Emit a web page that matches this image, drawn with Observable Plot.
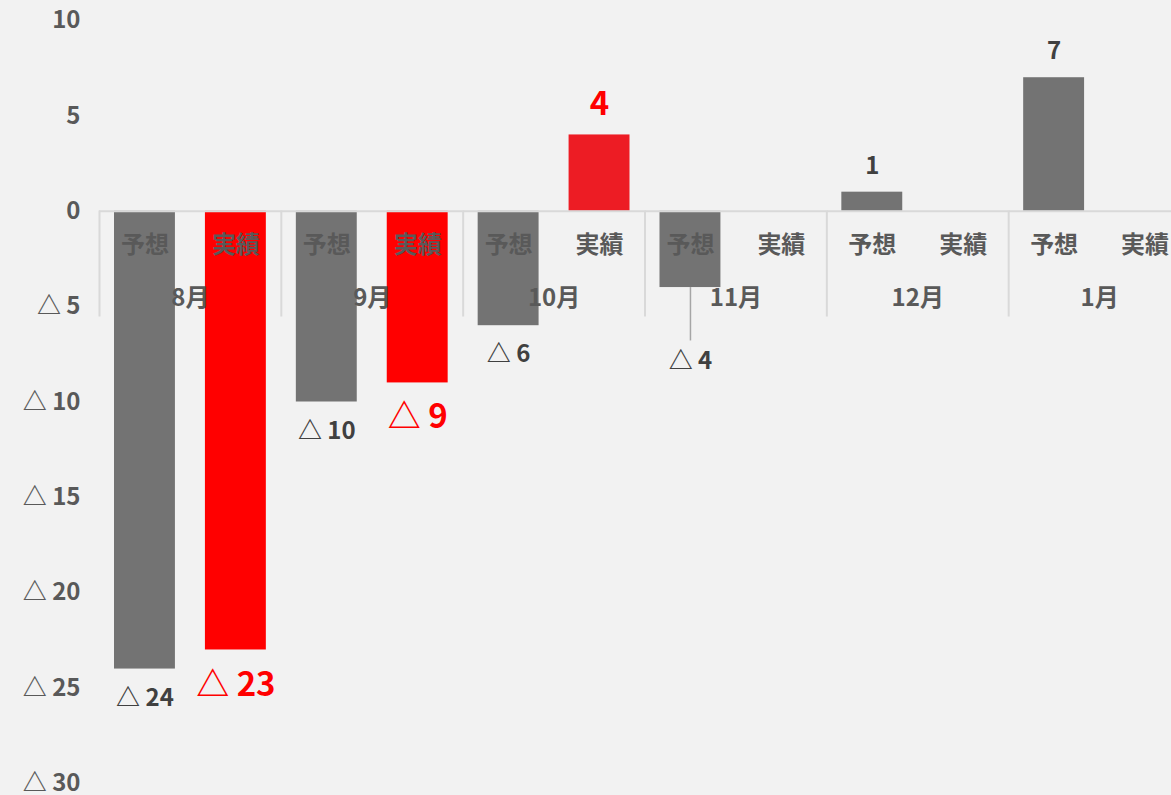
<!DOCTYPE html>
<html>
<head>
<meta charset="utf-8">
<script src="https://cdn.jsdelivr.net/npm/d3@7"></script>
<script src="https://cdn.jsdelivr.net/npm/@observablehq/plot@0.6"></script>
<style>
  html, body { margin: 0; padding: 0; background: #f2f2f2; overflow: hidden; }
  #chart svg { display: block; overflow: hidden; }
</style>
</head>
<body>
<div id="chart"></div>
<script>
// ---- data ----
const months = ["8月", "9月", "10月", "11月", "12月", "1月"];
const types = ["予想", "実績"];
const forecast = [-24, -10, -6, -4, 1, 7];
const actual = [-23, -9, 4, null, null, null];
const yTicks = [10, 5, 0, -5, -10, -15, -20, -25, -30];
const leaderMonth = "11月";

const fmt = v => v < 0 ? "△ " + (-v) : String(v);

const rows = months.flatMap((m, i) => [
  {month: m, type: "予想", value: forecast[i]},
  {month: m, type: "実績", value: actual[i]}
]);
const bars = rows.filter(d => d.value != null);
const fc = bars.filter(d => d.type === "予想");
const ac = bars.filter(d => d.type === "実績");

const GRAY = "#737373", RED = "#ff0000", RED2 = "#ed1c24";
const barColor = d => d.type === "予想" ? GRAY : (d.month === "10月" ? RED2 : RED);
const FONT = "'Noto Sans CJK JP', 'Noto Sans', sans-serif";

const chart = Plot.plot({
  width: 1171,
  height: 795,
  marginTop: 20,
  marginBottom: 12,
  marginLeft: 99,
  marginRight: 0,
  style: {background: "#f2f2f2", fontFamily: FONT},
  fx: {domain: months, range: [99, 1190], padding: 0, round: false, axis: null},
  x: {domain: types, paddingInner: 0.33, paddingOuter: 0.165, round: false, axis: null},
  y: {domain: [-30, 10], axis: null},
  color: {type: "identity"},
  marks: [
    Plot.axisY(yTicks, {tickFormat: fmt, tickSize: 0, tickPadding: 19, fontSize: 24, fontWeight: "bold", color: "#595959", label: null}),
    Plot.barY(bars, {fx: "month", x: "type", y: "value", fill: barColor}),
    Plot.ruleY([0], {stroke: "#d9d9d9", strokeWidth: 2}),
    Plot.frame({anchor: "left", stroke: "#d9d9d9", strokeWidth: 2, insetTop: 191, insetBottom: 468}),
    // category labels
    Plot.text(rows, {fx: "month", x: "type", y: () => 0, text: "type", dy: 34, fontSize: 24, fontWeight: "bold", fill: "#595959"}),
    Plot.text(months, {fx: d => d, y: () => 0, text: d => d, dy: 87, fontSize: 24, fontWeight: "bold", fill: "#595959"}),
    // leader line
    Plot.ruleX(fc.filter(d => d.month === leaderMonth), {fx: "month", x: "type", y1: "value", y2: d => d.value - 2.8, stroke: "#a6a6a6", strokeWidth: 1.5}),
    // forecast labels
    Plot.text(fc.filter(d => d.value < 0 && d.month !== leaderMonth), {fx: "month", x: "type", y: "value", text: d => fmt(d.value), dy: 29, fontSize: 24, fontWeight: "bold", fill: "#404040"}),
    Plot.text(fc.filter(d => d.month === leaderMonth), {fx: "month", x: "type", y: "value", text: d => fmt(d.value), dy: 74, fontSize: 24, fontWeight: "bold", fill: "#404040"}),
    Plot.text(fc.filter(d => d.value >= 0), {fx: "month", x: "type", y: "value", text: d => fmt(d.value), dy: -26, fontSize: 24, fontWeight: "bold", fill: "#404040"}),
    // actual labels
    Plot.text(ac.filter(d => d.value < 0), {fx: "month", x: "type", y: "value", text: d => fmt(d.value), dy: 35, fontSize: 33, fontWeight: "bold", fill: RED}),
    Plot.text(ac.filter(d => d.value >= 0), {fx: "month", x: "type", y: "value", text: d => fmt(d.value), dy: -31, fontSize: 33, fontWeight: "bold", fill: RED})
  ]
});
document.getElementById("chart").append(chart);
</script>
</body>
</html>
